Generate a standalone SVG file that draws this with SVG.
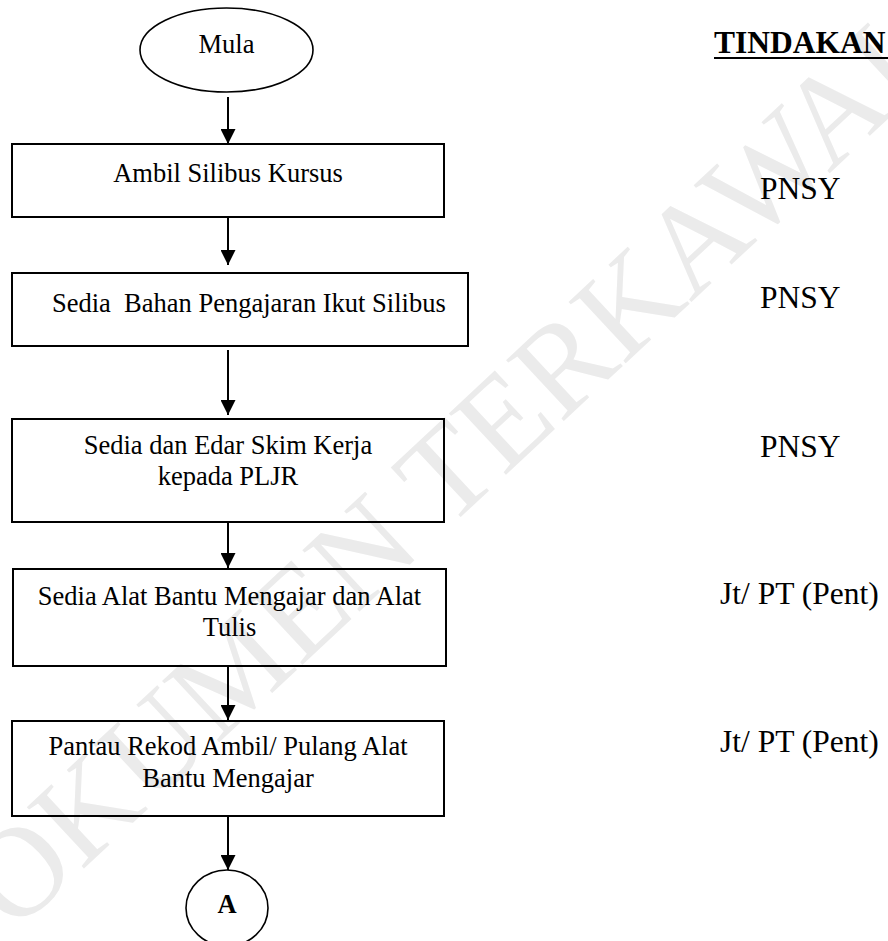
<svg xmlns="http://www.w3.org/2000/svg" width="888" height="941" viewBox="0 0 888 941">
<style>
.t{font-family:"Liberation Serif","Times New Roman",serif;font-size:26.5px;fill:#000;text-anchor:middle}
.r{font-family:"Liberation Serif","Times New Roman",serif;font-size:31.5px;fill:#000}
.box{fill:none;stroke:#000;stroke-width:2}
.ell{fill:none;stroke:#000;stroke-width:1.6}
.wm{font-family:"Liberation Serif","Times New Roman",serif;font-size:128px;fill:#ebebeb}
#connectors line{stroke:#000;stroke-width:2}
</style>
<defs>
<marker id="ah" markerUnits="userSpaceOnUse" markerWidth="16" markerHeight="15" refX="15" refY="7.5" orient="auto">
<path d="M0,0 L15,7.5 L0,15 Z" fill="#000"/>
</marker>
</defs>
<rect width="888" height="941" fill="#fff"/>
<text class="wm" transform="translate(-54,997) rotate(-43)">DOKUMEN TERKAWAL</text>

<g id="connectors">
<line x1="228" y1="97" x2="228" y2="144" marker-end="url(#ah)"/>
<line x1="228" y1="218" x2="228" y2="265" marker-end="url(#ah)"/>
<line x1="228" y1="350" x2="228" y2="415" marker-end="url(#ah)"/>
<line x1="228" y1="522" x2="228" y2="568" marker-end="url(#ah)"/>
<line x1="228" y1="666" x2="228" y2="720" marker-end="url(#ah)"/>
<line x1="228" y1="816" x2="228" y2="870" marker-end="url(#ah)"/>
</g>

<g id="mula">
<ellipse class="ell" cx="226.5" cy="50" rx="86.5" ry="42"/>
<text class="t" x="226.5" y="53">Mula</text>
</g>
<g id="ambil">
<rect class="box" x="12" y="144" width="432" height="73"/>
<text class="t" x="228" y="182">Ambil Silibus Kursus</text>
</g>
<g id="bahan">
<rect class="box" x="12" y="273" width="456" height="73"/>
<text class="t" x="52" y="312" style="text-anchor:start" xml:space="preserve">Sedia  Bahan Pengajaran Ikut Silibus</text>
</g>
<g id="skim">
<rect class="box" x="12" y="419" width="432" height="103"/>
<text class="t" x="228" y="454">Sedia dan Edar Skim Kerja</text>
<text class="t" x="228" y="485">kepada PLJR</text>
</g>
<g id="alat">
<rect class="box" x="13" y="569" width="433" height="97"/>
<text class="t" x="229.5" y="605">Sedia Alat Bantu Mengajar dan Alat</text>
<text class="t" x="229.5" y="636">Tulis</text>
</g>
<g id="pantau">
<rect class="box" x="12" y="721" width="432" height="95"/>
<text class="t" x="228" y="755">Pantau Rekod Ambil/ Pulang Alat</text>
<text class="t" x="228" y="787">Bantu Mengajar</text>
</g>
<g id="a">
<ellipse class="ell" cx="227" cy="908" rx="41" ry="38"/>
<text class="t" x="227" y="913" style="font-weight:bold">A</text>
</g>

<g id="tindakan">
<text class="r" x="714" y="53" style="font-weight:bold">TINDAKAN</text>
<line x1="714" y1="58" x2="888" y2="58" stroke="#000" stroke-width="2.2"/>
<text class="r" x="760" y="199">PNSY</text>
<text class="r" x="760" y="308">PNSY</text>
<text class="r" x="760" y="457">PNSY</text>
<text class="r" x="720" y="604">Jt/ PT (Pent)</text>
<text class="r" x="720" y="752">Jt/ PT (Pent)</text>
</g>
</svg>
